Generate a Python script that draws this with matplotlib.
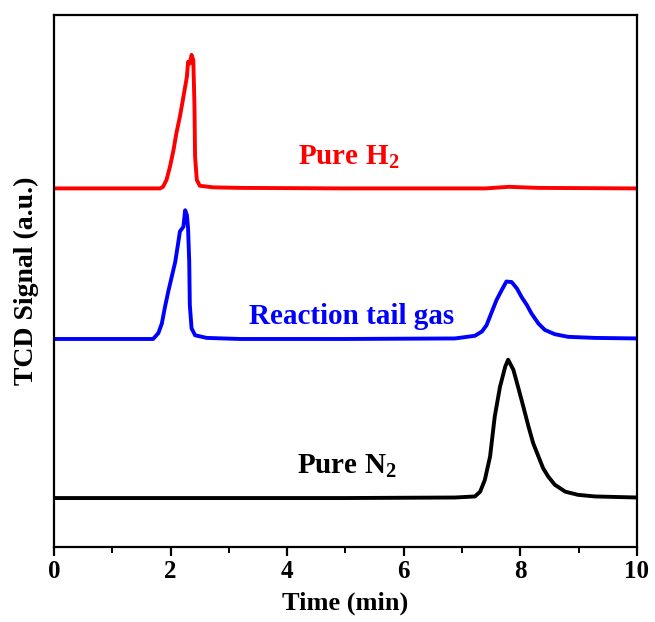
import matplotlib

matplotlib.use("Agg")
import matplotlib.pyplot as plt
from matplotlib.ticker import MultipleLocator

plt.rcParams["font.family"] = "Liberation Serif"
plt.rcParams["font.weight"] = "bold"
plt.rcParams["mathtext.fontset"] = "custom"
plt.rcParams["mathtext.rm"] = "Liberation Serif:bold"
plt.rcParams["mathtext.it"] = "Liberation Serif:bold"
plt.rcParams["mathtext.bf"] = "Liberation Serif:bold"

# traces (time in min, signal in arbitrary offset units)
h2_time = [0, 1.82, 1.87, 1.93, 1.99, 2.05, 2.10, 2.16, 2.22, 2.28, 2.30, 2.33,
           2.36, 2.39, 2.41, 2.42, 2.45, 2.50, 2.73, 3.19, 5.0, 7.4, 7.8, 8.3, 10]
h2_signal = [0.674, 0.674, 0.677, 0.690, 0.715, 0.746, 0.778, 0.809, 0.846, 0.884,
             0.912, 0.909, 0.925, 0.915, 0.828, 0.734, 0.690, 0.679, 0.676, 0.675,
             0.674, 0.674, 0.677, 0.675, 0.674]

tail_time = [0, 1.70, 1.79, 1.85, 1.90, 1.96, 2.02, 2.08, 2.13, 2.16, 2.22, 2.25,
             2.28, 2.30, 2.32, 2.33, 2.36, 2.42, 2.62, 3.19, 5.0, 6.88, 7.22, 7.34,
             7.42, 7.51, 7.59, 7.68, 7.76, 7.85, 7.94, 8.02, 8.11, 8.19, 8.31, 8.42,
             8.59, 8.82, 9.28, 10]
tail_signal = [0.391, 0.391, 0.402, 0.420, 0.449, 0.480, 0.508, 0.536, 0.571, 0.593,
               0.602, 0.633, 0.624, 0.599, 0.536, 0.455, 0.411, 0.398, 0.393, 0.391,
               0.391, 0.392, 0.397, 0.405, 0.417, 0.442, 0.464, 0.483, 0.499, 0.498,
               0.486, 0.470, 0.455, 0.439, 0.420, 0.408, 0.400, 0.395, 0.393, 0.392]

n2_time = [0, 5.0, 6.88, 7.22, 7.31, 7.39, 7.48, 7.56, 7.65, 7.74, 7.79, 7.88,
           7.96, 8.05, 8.14, 8.22, 8.31, 8.39, 8.48, 8.59, 8.77, 8.99, 9.28, 10]
n2_signal = [0.092, 0.092, 0.093, 0.095, 0.104, 0.126, 0.170, 0.245, 0.301, 0.339,
             0.352, 0.333, 0.301, 0.264, 0.226, 0.195, 0.170, 0.148, 0.132, 0.117,
             0.104, 0.098, 0.095, 0.093]

labels = ["Pure H$_2$", "Reaction tail gas", "Pure N$_2$"]
label_x = [5.05, 5.10, 5.02]
label_y = [0.733, 0.434, 0.152]
colors = ["#ff0000", "#0000ff", "#000000"]

fig = plt.figure(figsize=(6.55, 6.22), dpi=100)
ax = fig.add_axes([0.0824, 0.1206, 0.8901, 0.8553])

for t, s, c in [(h2_time, h2_signal, colors[0]),
                (tail_time, tail_signal, colors[1]),
                (n2_time, n2_signal, colors[2])]:
    ax.plot(t, s, color=c, lw=2.8, solid_joinstyle="round")

for lab, x, y, c in zip(labels, label_x, label_y, colors):
    ax.text(x, y, lab, color=c, fontsize=21, fontweight="bold",
            ha="center", va="center")

ax.set_xlim(0, 10)
ax.set_ylim(0, 1)
ax.xaxis.set_major_locator(MultipleLocator(2))
ax.xaxis.set_minor_locator(MultipleLocator(1))
ax.set_yticks([])
ax.tick_params(axis="x", which="major", direction="out", length=6.5, width=1.6,
               labelsize=18, pad=3)
ax.tick_params(axis="x", which="minor", direction="out", length=4, width=1.4)
for sp in ax.spines.values():
    sp.set_linewidth(1.6)

ax.set_xlabel("Time (min)", fontsize=19, fontweight="bold", labelpad=6)
ax.set_ylabel("TCD Signal (a.u.)", fontsize=20, fontweight="bold", labelpad=11)

fig.savefig("out.png", dpi=100)
